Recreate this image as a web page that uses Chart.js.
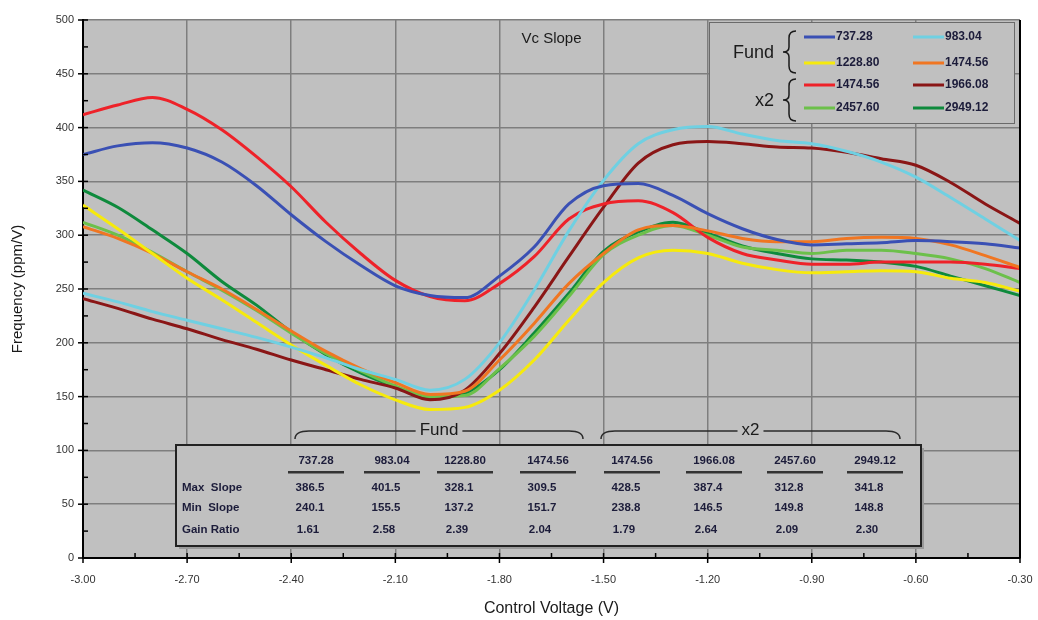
<!DOCTYPE html>
<html>
<head>
<meta charset="utf-8">
<script src="https://cdn.jsdelivr.net/npm/chart.js@4.4.1/dist/chart.umd.min.js"></script>
<style>
  body { margin: 0; background: #ffffff; }
  #wrap { width: 1038px; height: 620px; }
</style>
</head>
<body>
<div id="wrap"><canvas id="slopeChart" width="1038" height="620"></canvas></div>
<script>
// Control voltage (V)
const xValues = [-3.0, -2.9, -2.8, -2.7, -2.6, -2.5, -2.4, -2.3, -2.2, -2.1, -2.0, -1.9, -1.8, -1.7,
    -1.6, -1.5, -1.4, -1.3, -1.2, -1.1, -1.0, -0.9, -0.8, -0.7, -0.6, -0.5, -0.4, -0.3];

// Frequency slope (ppm/V)
const fund737 = [375, 383, 386, 381, 368, 346, 319, 294, 272, 253, 244, 242, 262, 289, 329, 346, 348, 337, 320, 306, 296, 291, 292, 293, 295, 294, 292, 288];
const fund983 = [246, 238, 229, 221, 213, 205, 196, 186, 175, 166, 156, 166, 200, 249, 304, 351, 385, 398, 401, 394, 388, 385, 378, 368, 354, 335, 315, 295];
const fund1228 = [328, 306, 283, 260, 240, 219, 198, 179, 161, 147, 138, 140, 156, 184, 221, 256, 279, 286, 283, 274, 268, 265, 266, 267, 266, 260, 256, 248];
const fund1474 = [308, 297, 283, 266, 250, 231, 211, 192, 176, 163, 152, 155, 184, 218, 255, 283, 305, 309, 304, 297, 294, 294, 297, 298, 297, 291, 281, 270];
const x2_1474 = [412, 421, 428, 417, 398, 373, 345, 312, 283, 258, 243, 239, 255, 280, 315, 329, 332, 321, 298, 283, 277, 273, 273, 275, 275, 275, 273, 269];
const x2_1966 = [241, 232, 222, 213, 203, 194, 184, 175, 166, 158, 147, 156, 190, 233, 280, 326, 367, 384, 387, 385, 382, 381, 377, 371, 365, 349, 329, 311];
const x2_2457 = [312, 300, 284, 266, 249, 230, 209, 190, 174, 160, 150, 151, 176, 206, 243, 282, 300, 309, 300, 289, 286, 283, 286, 286, 283, 278, 269, 256];
const x2_2949 = [342, 326, 305, 283, 257, 235, 210, 189, 172, 159, 149, 153, 175, 209, 246, 285, 303, 312, 302, 290, 283, 278, 277, 275, 271, 262, 253, 244];

const seriesLabels = ['737.28', '983.04', '1228.80', '1474.56', '1474.56', '1966.08', '2457.60', '2949.12'];
const seriesColors = ['#3a50b4', '#6fd0e2', '#f6ea0c', '#f07622', '#ee2229', '#8a1616', '#6cc04a', '#0e8a3c'];
const seriesData = [fund737, fund983, fund1228, fund1474, x2_1474, x2_1966, x2_2457, x2_2949];

// Summary table
const rowLabels = ['Max  Slope', 'Min  Slope', 'Gain Ratio'];
const maxSlope = ['386.5', '401.5', '328.1', '309.5', '428.5', '387.4', '312.8', '341.8'];
const minSlope = ['240.1', '155.5', '137.2', '151.7', '238.8', '146.5', '149.8', '148.8'];
const gainRatio = ['1.61', '2.58', '2.39', '2.04', '1.79', '2.64', '2.09', '2.30'];

const FONT = '"Liberation Sans", Arial, sans-serif';
const INK = '#1c1c3a';

function vBrace(ctx, x, y1, y2) {
    const m = (y1 + y2) / 2;
    ctx.beginPath();
    ctx.moveTo(x + 7, y1);
    ctx.quadraticCurveTo(x, y1, x, y1 + 7);
    ctx.lineTo(x, m - 5);
    ctx.quadraticCurveTo(x, m, x - 6, m);
    ctx.quadraticCurveTo(x, m, x, m + 5);
    ctx.lineTo(x, y2 - 7);
    ctx.quadraticCurveTo(x, y2, x + 7, y2);
    ctx.stroke();
}

function hBrace(ctx, x1, x2, y, label) {
    ctx.font = '17px ' + FONT;
    const w = ctx.measureText(label).width;
    const c = (x1 + x2) / 2;
    ctx.beginPath();
    ctx.moveTo(x1, y + 8);
    ctx.quadraticCurveTo(x1, y, x1 + 14, y);
    ctx.lineTo(c - w / 2 - 4, y);
    ctx.moveTo(c + w / 2 + 4, y);
    ctx.lineTo(x2 - 14, y);
    ctx.quadraticCurveTo(x2, y, x2, y + 8);
    ctx.stroke();
    ctx.fillStyle = '#1a1a1a';
    ctx.textAlign = 'center';
    ctx.textBaseline = 'middle';
    ctx.fillText(label, c, y - 1);
}

const decorPlugin = {
    id: 'decor',
    beforeDraw(chart) {
        const a = chart.chartArea;
        const ctx = chart.ctx;
        ctx.save();
        ctx.fillStyle = '#c0c0c0';
        ctx.fillRect(a.left, a.top, a.right - a.left, a.bottom - a.top);
        ctx.restore();
    },
    afterDraw(chart) {
        const a = chart.chartArea;
        const ctx = chart.ctx;
        const xs = chart.scales.x;
        const ys = chart.scales.y;
        ctx.save();

        // right border
        ctx.strokeStyle = '#000';
        ctx.lineWidth = 2;
        ctx.beginPath();
        ctx.moveTo(a.right, a.top);
        ctx.lineTo(a.right, a.bottom);
        ctx.stroke();

        // tick marks
        ctx.lineWidth = 1.5;
        for (let i = 0; i <= 9; i++) {
            const v = -3 + i * 0.3;
            const px = xs.getPixelForValue(v);
            ctx.beginPath();
            ctx.moveTo(px, a.bottom - 5);
            ctx.lineTo(px, a.bottom + 5);
            ctx.stroke();
            if (i < 9) {
                const pm = xs.getPixelForValue(v + 0.15);
                ctx.beginPath();
                ctx.moveTo(pm, a.bottom - 5);
                ctx.lineTo(pm, a.bottom);
                ctx.stroke();
            }
        }
        for (let v = 0; v <= 500; v += 25) {
            const py = ys.getPixelForValue(v);
            ctx.beginPath();
            if (v % 50 === 0) {
                ctx.moveTo(a.left - 5, py);
                ctx.lineTo(a.left + 5, py);
            } else {
                ctx.moveTo(a.left, py);
                ctx.lineTo(a.left + 5, py);
            }
            ctx.stroke();
        }

        // inner title
        ctx.fillStyle = '#1a1a1a';
        ctx.font = '15px ' + FONT;
        ctx.textAlign = 'center';
        ctx.textBaseline = 'middle';
        ctx.fillText('Vc Slope', (a.left + a.right) / 2, 39);

        // legend box
        const lx = 709, ly = 22, lw = 305, lh = 101;
        ctx.fillStyle = '#c0c0c0';
        ctx.fillRect(lx, ly, lw, lh);
        ctx.strokeStyle = '#6a6a6a';
        ctx.lineWidth = 1;
        ctx.strokeRect(lx + 0.5, ly + 0.5, lw, lh);

        ctx.fillStyle = '#1a1a1a';
        ctx.font = '18px ' + FONT;
        ctx.textAlign = 'right';
        ctx.fillText('Fund', 774, 53);
        ctx.fillText('x2', 774, 101);
        ctx.strokeStyle = '#1a1a1a';
        ctx.lineWidth = 1.5;
        vBrace(ctx, 789, 31, 73);
        vBrace(ctx, 789, 79, 121);

        const rowsY = [37, 63, 85, 108];
        const colX = [804, 913];
        ctx.font = 'bold 12px ' + FONT;
        ctx.textAlign = 'left';
        for (let i = 0; i < seriesLabels.length; i++) {
            const r = Math.floor(i / 2), c = i % 2;
            const y = rowsY[r], x = colX[c];
            ctx.strokeStyle = seriesColors[i];
            ctx.lineWidth = 3;
            ctx.beginPath();
            ctx.moveTo(x, y);
            ctx.lineTo(x + 31, y);
            ctx.stroke();
            ctx.fillStyle = INK;
            ctx.fillText(seriesLabels[i], x + 32, y);
        }

        // summary table
        const tx = 176, ty = 445, tw = 745, th = 101;
        ctx.fillStyle = '#9a9a9a';
        ctx.fillRect(tx + 3, ty + 3, tw, th);
        ctx.fillStyle = '#c0c0c0';
        ctx.fillRect(tx, ty, tw, th);
        ctx.strokeStyle = '#222';
        ctx.lineWidth = 2;
        ctx.strokeRect(tx, ty, tw, th);

        ctx.strokeStyle = '#2a2a2a';
        ctx.lineWidth = 1.5;
        hBrace(ctx, 295, 583, 431, 'Fund');
        hBrace(ctx, 601, 900, 431, 'x2');

        const colC = [316, 392, 465, 548, 632, 714, 795, 875];
        ctx.font = 'bold 11.5px ' + FONT;
        ctx.textAlign = 'center';
        ctx.fillStyle = INK;
        for (let i = 0; i < seriesLabels.length; i++) {
            ctx.fillStyle = INK;
            ctx.fillText(seriesLabels[i], colC[i], 461);
            ctx.fillStyle = '#333';
            ctx.fillRect(colC[i] - 28, 471, 56, 2.5);
            ctx.fillStyle = INK;
            ctx.fillText(maxSlope[i], colC[i] - 6, 488);
            ctx.fillText(minSlope[i], colC[i] - 6, 508);
            ctx.fillText(gainRatio[i], colC[i] - 8, 530);
        }
        ctx.textAlign = 'left';
        ctx.fillText(rowLabels[0], 182, 488);
        ctx.fillText(rowLabels[1], 182, 508);
        ctx.fillText(rowLabels[2], 182, 530);

        ctx.restore();
    }
};

const datasets = seriesData.map((d, i) => ({
    label: seriesLabels[i],
    data: xValues.map((x, k) => ({ x: x, y: d[k] })),
    borderColor: seriesColors[i],
    backgroundColor: seriesColors[i],
    borderWidth: 3,
    pointRadius: 0,
    fill: false,
    cubicInterpolationMode: 'monotone'
}));

new Chart(document.getElementById('slopeChart').getContext('2d'), {
    type: 'line',
    data: { datasets: datasets },
    options: {
        responsive: false,
        animation: false,
        layout: { padding: { top: 20, right: 18, left: 0, bottom: 0 } },
        plugins: {
            legend: { display: false },
            title: { display: false },
            tooltip: { enabled: false }
        },
        scales: {
            x: {
                type: 'linear',
                min: -3.0,
                max: -0.3,
                afterBuildTicks: (scale) => {
                    scale.ticks = [];
                    for (let i = 0; i <= 9; i++) scale.ticks.push({ value: -3 + i * 0.3 });
                },
                afterFit: (scale) => {
                    scale.height = 62;
                    scale.paddingLeft = 0;
                    scale.paddingRight = 0;
                },
                ticks: {
                    color: '#333',
                    font: { family: FONT, size: 11 },
                    padding: 15,
                    maxRotation: 0,
                    callback: (v) => Number(v).toFixed(2)
                },
                grid: { color: '#7e7e7e', lineWidth: 1.5, drawTicks: false },
                border: { color: '#000', width: 2 },
                title: {
                    display: true,
                    text: 'Control Voltage (V)',
                    color: '#1a1a1a',
                    font: { family: FONT, size: 16 },
                    padding: { top: 0, bottom: 2 }
                }
            },
            y: {
                min: 0,
                max: 500,
                afterFit: (scale) => { scale.width = 83; },
                ticks: {
                    stepSize: 50,
                    color: '#333',
                    font: { family: FONT, size: 11 },
                    padding: 9
                },
                grid: { color: '#7e7e7e', lineWidth: 1.5, drawTicks: false },
                border: { color: '#000', width: 2 },
                title: {
                    display: true,
                    text: 'Frequency (ppm/V)',
                    color: '#1a1a1a',
                    font: { family: FONT, size: 15 },
                    padding: { top: 9, bottom: 0 }
                }
            }
        }
    },
    plugins: [decorPlugin]
});
</script>
</body>
</html>
